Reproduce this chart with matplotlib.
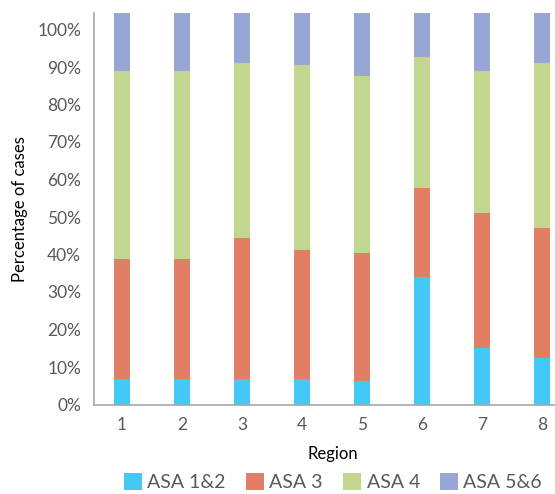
import matplotlib
matplotlib.use("Agg")
import matplotlib.pyplot as plt
from matplotlib.patches import Patch
from matplotlib.ticker import PercentFormatter

regions = ["1", "2", "3", "4", "5", "6", "7", "8"]
asa_12 = [6.8, 6.8, 6.8, 6.8, 6.3, 34.0, 15.1, 12.5]
asa_3 = [32.0, 32.0, 37.7, 34.5, 34.1, 23.7, 36.0, 34.6]
asa_4 = [50.1, 50.1, 46.6, 49.2, 47.2, 35.0, 37.8, 44.0]
asa_56 = [15.5, 15.5, 13.3, 13.9, 16.8, 11.7, 15.5, 13.3]
series_names = ["ASA 1&2", "ASA 3", "ASA 4", "ASA 5&6"]
colors = ["#44C8F5", "#E17F66", "#C2D690", "#97A6D4"]
y_ticks = [0, 10, 20, 30, 40, 50, 60, 70, 80, 90, 100]

plt.rcParams['font.family'] = ['Lato', 'DejaVu Sans']

fig = plt.figure(figsize=(5.55, 4.94), dpi=100)
W, H = 555, 494
left_px, right_px, top_px, bottom_px = 93.7, 572.0, 13.0, 404.5
ax = fig.add_axes([left_px / W, 1 - bottom_px / H, (right_px - left_px) / W, (bottom_px - top_px) / H])

x = list(range(1, len(regions) + 1))
bottom = [0.0] * len(regions)
for vals, name, c in zip([asa_12, asa_3, asa_4, asa_56], series_names, colors):
    ax.bar(x, vals, bottom=bottom, width=0.267, color=c, label=name, linewidth=0)
    bottom = [b + v for b, v in zip(bottom, vals)]

ax.set_xlim(0.528, 8.5)
ax.set_ylim(0, 104.4)
ax.set_xticks(x)
ax.set_xticklabels(regions)
ax.set_yticks(y_ticks)
ax.yaxis.set_major_formatter(PercentFormatter(decimals=0))
ax.tick_params(axis='both', length=0, labelsize=12.5, labelcolor="#595959")
ax.tick_params(axis='y', pad=9)
ax.tick_params(axis='x', pad=9)

for s in ["top", "right"]:
    ax.spines[s].set_visible(False)
for s in ["left", "bottom"]:
    ax.spines[s].set_color("#A6A6A6")
    ax.spines[s].set_linewidth(1.2)

ax.set_ylabel("Percentage of cases", fontsize=12, color="black", labelpad=7)
ax.set_xlabel("Region", fontsize=12, color="black", labelpad=9)

handles = [Patch(facecolor=c, edgecolor='none') for c in colors]
leg = fig.legend(handles, series_names, loc="center", bbox_to_anchor=(333 / W, 1 - 482 / H),
                 ncol=4, frameon=False, fontsize=14, handlelength=0.95, handleheight=0.95,
                 handletextpad=0.26, columnspacing=1.03, borderpad=0, borderaxespad=0)
for t in leg.get_texts():
    t.set_color("#595959")

fig.savefig("out.png", dpi=100)
